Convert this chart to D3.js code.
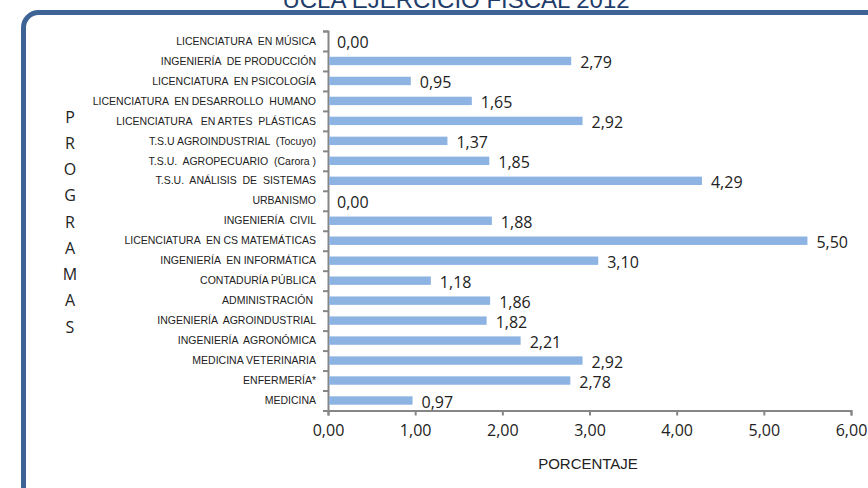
<!DOCTYPE html>
<html>
<head>
<meta charset="utf-8">
<script src="https://cdn.jsdelivr.net/npm/d3@7"></script>
<style>
  body { margin: 0; background: #fff; }
  svg { display: block; }
  text { white-space: pre; }
</style>
</head>
<body>
<div id="chart"></div>
<script>
// programas (top to bottom) and their percentage
const programas = [
  "LICENCIATURA  EN MÚSICA",
  "INGENIERÍA  DE PRODUCCIÓN",
  "LICENCIATURA  EN PSICOLOGÍA",
  "LICENCIATURA  EN DESARROLLO  HUMANO",
  "LICENCIATURA   EN ARTES  PLÁSTICAS",
  "T.S.U AGROINDUSTRIAL  (Tocuyo)",
  "T.S.U.  AGROPECUARIO  (Carora )",
  "T.S.U.  ANÁLISIS  DE  SISTEMAS",
  "URBANISMO",
  "INGENIERÍA  CIVIL",
  "LICENCIATURA  EN CS MATEMÁTICAS",
  "INGENIERÍA  EN INFORMÁTICA",
  "CONTADURÍA PÚBLICA",
  "ADMINISTRACIÓN ",
  "INGENIERÍA  AGROINDUSTRIAL",
  "INGENIERÍA  AGRONÓMICA",
  "MEDICINA VETERINARIA",
  "ENFERMERÍA*",
  "MEDICINA"
];
const porcentajes = [0.00, 2.79, 0.95, 1.65, 2.92, 1.37, 1.85, 4.29, 0.00, 1.88,
                     5.50, 3.10, 1.18, 1.86, 1.82, 2.21, 2.92, 2.78, 0.97];
const xTicks = [0, 1, 2, 3, 4, 5, 6];

const width = 868, height = 488;
const margin = { top: 31, right: 17, bottom: 77, left: 328 };
const fmt = v => d3.format(".2f")(v).replace(".", ",");

const svg = d3.select("#chart")
  .append("svg")
  .attr("width", width)
  .attr("height", height);

// frame with rounded corner
svg.append("rect")
  .attr("x", 23.5).attr("y", 12.5)
  .attr("width", 900).attr("height", 520)
  .attr("rx", 15)
  .attr("fill", "none")
  .attr("stroke", "#3e6496")
  .attr("stroke-width", 5);

// title, cut off at the top like the original
svg.append("text")
  .attr("x", 456).attr("y", 8)
  .attr("text-anchor", "middle")
  .style("font-family", "'Liberation Sans Narrow', 'Arial Narrow', sans-serif")
  .style("font-size", "24px")
  .style("fill", "#1f3d6b")
  .text("UCLA EJERCICIO FISCAL 2012");

const x = d3.scaleLinear()
  .domain([0, 6])
  .range([margin.left, width - margin.right]);

const y = d3.scaleBand()
  .domain(programas)
  .range([margin.top, height - margin.bottom - 0.5])
  .paddingInner(0.58)
  .paddingOuter(0.29);

// boundaries for category tick marks
const yb = d3.scaleLinear()
  .domain([0, programas.length])
  .range([margin.top, height - margin.bottom - 0.5]);

const axisColor = "#868686";
const numFont = "'Open Sans', sans-serif";

// x axis
const gx = svg.append("g")
  .attr("transform", `translate(0,${yb(programas.length)})`)
  .call(d3.axisBottom(x).tickValues(xTicks).tickSize(5).tickFormat(fmt).tickPadding(9));
gx.select(".domain").attr("stroke", axisColor).attr("stroke-width", 2);
gx.selectAll(".tick line").attr("stroke", axisColor).attr("stroke-width", 2);
gx.selectAll(".tick text")
  .style("font-family", numFont)
  .style("font-size", "16px")
  .style("fill", "#222");

// y axis: ticks between categories
const gy = svg.append("g")
  .attr("transform", `translate(${margin.left},0)`)
  .call(d3.axisLeft(yb).tickValues(d3.range(programas.length + 1)).tickSize(5).tickFormat(""));
gy.select(".domain").attr("stroke", axisColor).attr("stroke-width", 2);
gy.selectAll(".tick line").attr("stroke", axisColor).attr("stroke-width", 2);

// category labels
svg.append("g")
  .selectAll("text")
  .data(programas)
  .join("text")
  .attr("x", margin.left - 12)
  .attr("y", d => y(d) + y.bandwidth() / 2)
  .attr("dy", "0.35em")
  .attr("text-anchor", "end")
  .style("font-family", "'Liberation Sans Narrow', 'Arial Narrow', sans-serif")
  .style("font-size", "10.5px")
  .style("fill", "#222")
  .text(d => d);

// bars
const bar = svg.selectAll(".bar")
  .data(programas.map((p, i) => [p, porcentajes[i]]))
  .join("g")
  .attr("class", "bar");

bar.append("rect")
  .attr("x", x(0) + 1)
  .attr("y", d => y(d[0]))
  .attr("width", d => Math.max(0, x(d[1]) - x(0) - 1))
  .attr("height", y.bandwidth())
  .attr("fill", "#8db3e2");

bar.append("text")
  .attr("x", d => x(d[1]) + 9)
  .attr("y", d => y(d[0]) + y.bandwidth() / 2 + 7)
  .style("font-family", numFont)
  .style("font-size", "16px")
  .style("fill", "#222")
  .text(d => fmt(d[1]));

// vertical axis title, one letter per line
const letters = "PROGRAMAS".split("");
svg.append("g")
  .selectAll("text")
  .data(letters)
  .join("text")
  .attr("x", 70)
  .attr("y", (d, i) => 117 + i * 26.25)
  .attr("dy", "0.35em")
  .attr("text-anchor", "middle")
  .style("font-family", numFont)
  .style("font-size", "16px")
  .style("fill", "#222")
  .text(d => d);

svg.append("text")
  .attr("x", 588).attr("y", 464)
  .attr("dy", "0.35em")
  .attr("text-anchor", "middle")
  .style("font-family", "'Liberation Sans Narrow', 'Arial Narrow', sans-serif")
  .style("font-size", "15px")
  .style("fill", "#222")
  .text("PORCENTAJE");
</script>
</body>
</html>
